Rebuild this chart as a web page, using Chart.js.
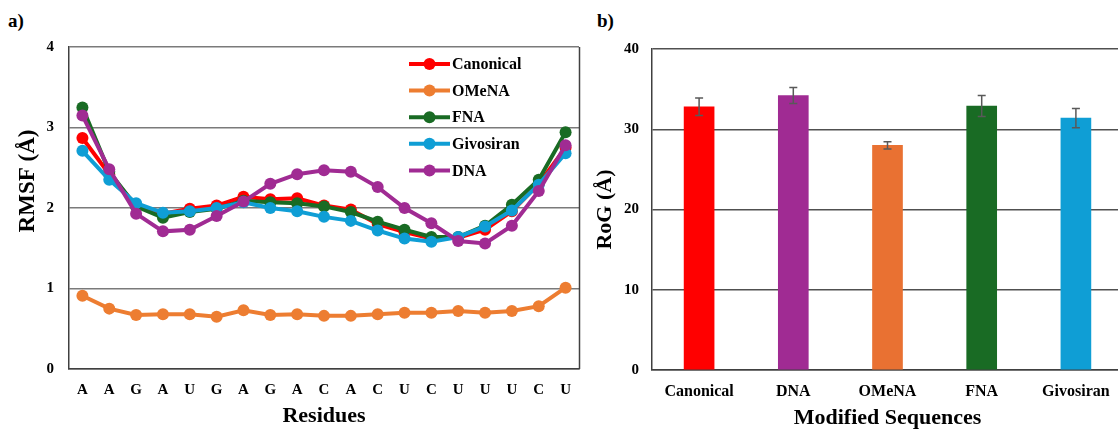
<!DOCTYPE html>
<html>
<head>
<meta charset="utf-8">
<title>RMSF and RoG</title>
<style>
  html, body { margin: 0; padding: 0; background: #fff; overflow: hidden; }
  body { width: 1118px; height: 429px; position: relative; }
  .panel { position: absolute; top: 0; }
  .tag { position: absolute; top: 10px; font: bold 19px "Liberation Serif", "Times New Roman", serif; color: #000; }
</style>
</head>
<body>
<div class="tag" style="left:8px">a)</div>
<div class="tag" style="left:597px">b)</div>
<div class="panel" style="left:0"><canvas id="rmsfChart" width="590" height="429"></canvas></div>
<div class="panel" style="left:590px"><canvas id="rogChart" width="540" height="429"></canvas></div>

<script src="https://cdn.jsdelivr.net/npm/chart.js"></script>
<script>
  const SERIF = '"Liberation Serif", "Times New Roman", serif';

  // per-residue RMSF (Å)
  const residues = ['A', 'A', 'G', 'A', 'U', 'G', 'A', 'G', 'A', 'C', 'A', 'C', 'U', 'C', 'U', 'U', 'U', 'C', 'U'];
  const canonical = [2.87, 2.42, 2.03, 1.93, 1.99, 2.03, 2.14, 2.11, 2.12, 2.03, 1.98, 1.80, 1.70, 1.62, 1.63, 1.73, 1.96, 2.30, 2.75];
  const omena     = [0.91, 0.75, 0.67, 0.68, 0.68, 0.65, 0.73, 0.67, 0.68, 0.66, 0.66, 0.68, 0.70, 0.70, 0.72, 0.70, 0.72, 0.78, 1.01];
  const fna       = [3.25, 2.45, 2.02, 1.88, 1.95, 1.99, 2.09, 2.07, 2.06, 2.02, 1.95, 1.83, 1.73, 1.64, 1.64, 1.78, 2.04, 2.35, 2.94];
  const givosiran = [2.71, 2.35, 2.06, 1.94, 1.96, 2.00, 2.07, 2.00, 1.96, 1.89, 1.84, 1.72, 1.62, 1.58, 1.64, 1.77, 1.97, 2.29, 2.68];
  const dna       = [3.15, 2.48, 1.93, 1.71, 1.73, 1.90, 2.08, 2.30, 2.42, 2.47, 2.45, 2.26, 2.00, 1.81, 1.59, 1.56, 1.78, 2.21, 2.78];

  // radius of gyration per sequence (Å)
  const sequences = ['Canonical', 'DNA', 'OMeNA', 'FNA', 'Givosiran'];
  const rog       = [32.8, 34.2, 28.0, 32.9, 31.4];
  const rogErr    = [1.1, 1.0, 0.45, 1.3, 1.2];

  const rmsfTicks = [0, 1, 2, 3, 4];
  const rogTicks = [0, 10, 20, 30, 40];

  const lineColors = { Canonical: '#FF0000', OMeNA: '#ED7D31', FNA: '#196B24', Givosiran: '#0F9ED5', DNA: '#A02B93' };
  const barColors = ['#FF0000', '#A02B93', '#E97132', '#196B24', '#0F9ED5'];

  const rmsfSeries = [
    ['Canonical', canonical],
    ['OMeNA', omena],
    ['FNA', fna],
    ['Givosiran', givosiran],
    ['DNA', dna]
  ];

  // legend drawn inside the plot area: short line with a dot, then the name
  const insideLegend = {
    id: 'insideLegend',
    afterDraw(chart, args, opts) {
      const { ctx, chartArea } = chart;
      ctx.save();
      chart.data.datasets.forEach((ds, i) => {
        const x0 = chartArea.left + opts.left;
        const y = chartArea.top + opts.top + i * opts.rowHeight;
        ctx.strokeStyle = ds.borderColor;
        ctx.lineWidth = ds.borderWidth;
        ctx.beginPath();
        ctx.moveTo(x0, y);
        ctx.lineTo(x0 + opts.lineLength, y);
        ctx.stroke();
        ctx.fillStyle = ds.borderColor;
        ctx.beginPath();
        ctx.arc(x0 + opts.lineLength / 2, y, ds.pointRadius, 0, Math.PI * 2);
        ctx.fill();
        ctx.fillStyle = '#000';
        ctx.font = opts.font;
        ctx.textBaseline = 'middle';
        ctx.fillText(ds.label, x0 + opts.lineLength + opts.gap, y + 1);
      });
      ctx.restore();
    }
  };

  // closes the plot box on the right side
  const rightFrame = {
    id: 'rightFrame',
    beforeDatasetsDraw(chart, args, opts) {
      const { ctx, chartArea } = chart;
      ctx.save();
      ctx.strokeStyle = opts.color;
      ctx.lineWidth = opts.width;
      ctx.beginPath();
      ctx.moveTo(Math.round(chartArea.right) + 0.5, chartArea.top);
      ctx.lineTo(Math.round(chartArea.right) + 0.5, chartArea.bottom);
      ctx.stroke();
      ctx.restore();
    }
  };

  // rotated y title, nudged along the axis
  const sideTitle = {
    id: 'sideTitle',
    afterDraw(chart, args, opts) {
      const { ctx, chartArea } = chart;
      ctx.save();
      ctx.translate(opts.x, (chartArea.top + chartArea.bottom) / 2 + opts.shift);
      ctx.rotate(-Math.PI / 2);
      ctx.font = opts.font;
      ctx.fillStyle = '#000';
      ctx.textAlign = 'center';
      ctx.textBaseline = 'middle';
      ctx.fillText(opts.text, 0, 0);
      ctx.restore();
    }
  };

  // whiskers on top of the bars
  const errorBars = {
    id: 'errorBars',
    afterDatasetsDraw(chart, args, opts) {
      const { ctx } = chart;
      const yScale = chart.scales.y;
      const meta = chart.getDatasetMeta(0);
      const values = chart.data.datasets[0].data;
      ctx.save();
      ctx.strokeStyle = opts.color;
      ctx.lineWidth = opts.width;
      meta.data.forEach((bar, i) => {
        const hi = yScale.getPixelForValue(values[i] + opts.errors[i]);
        const lo = yScale.getPixelForValue(values[i] - opts.errors[i]);
        ctx.beginPath();
        ctx.moveTo(bar.x, hi); ctx.lineTo(bar.x, lo);
        ctx.moveTo(bar.x - opts.cap, hi); ctx.lineTo(bar.x + opts.cap, hi);
        ctx.moveTo(bar.x - opts.cap, lo); ctx.lineTo(bar.x + opts.cap, lo);
        ctx.stroke();
      });
      ctx.restore();
    }
  };

  const tickFont = { family: SERIF, size: 15, weight: 'bold' };
  const titleFont = { family: SERIF, size: 22, weight: 'bold', lineHeight: 1 };

  new Chart(document.getElementById('rmsfChart'), {
    type: 'line',
    data: {
      labels: residues,
      datasets: rmsfSeries.map(([name, values], i) => ({
        label: name,
        data: values,
        borderColor: lineColors[name],
        backgroundColor: lineColors[name],
        pointBackgroundColor: lineColors[name],
        pointBorderWidth: 0,
        pointRadius: 6,
        borderWidth: 4,
        tension: 0,
        order: rmsfSeries.length - i
      }))
    },
    options: {
      responsive: false,
      animation: false,
      layout: { padding: { top: 47, right: 11, left: 0, bottom: 0 } },
      plugins: {
        legend: { display: false },
        tooltip: { enabled: false },
        insideLegend: { left: 340, top: 17, rowHeight: 26.6, lineLength: 41, gap: 2, font: 'bold 16px ' + SERIF },
        rightFrame: { color: '#404040', width: 1.5 },
        sideTitle: { text: 'RMSF (Å)', x: 28, shift: -27, font: 'bold 23px ' + SERIF }
      },
      scales: {
        x: {
          offset: true,
          grid: { drawOnChartArea: false, drawTicks: false },
          border: { color: '#404040', width: 1.5 },
          ticks: { font: tickFont, color: '#000', padding: 12, maxRotation: 0, autoSkip: false },
          title: { display: true, text: 'Residues', font: titleFont, color: '#000', padding: { top: 0, bottom: 2 } },
          afterFit: s => { s.height = 60; }
        },
        y: {
          min: 0,
          max: 4,
          afterBuildTicks: s => { s.ticks = rmsfTicks.map(v => ({ value: v })); },
          grid: { color: '#7a7a7a', lineWidth: 1.5, drawTicks: false },
          border: { color: '#404040', width: 1.5 },
          ticks: { font: tickFont, color: '#000', padding: 15 },
          afterFit: s => { s.width = 69; }
        }
      }
    },
    plugins: [rightFrame, insideLegend, sideTitle]
  });

  new Chart(document.getElementById('rogChart'), {
    type: 'bar',
    data: {
      labels: sequences,
      datasets: [{
        label: 'RoG',
        data: rog,
        backgroundColor: barColors,
        borderWidth: 0,
        barThickness: 30
      }]
    },
    options: {
      responsive: false,
      animation: false,
      layout: { padding: { top: 49, right: 7, left: 0, bottom: 0 } },
      plugins: {
        legend: { display: false },
        tooltip: { enabled: false },
        errorBars: { errors: rogErr, color: '#595959', width: 1.5, cap: 4 }
      },
      scales: {
        x: {
          grid: { drawOnChartArea: false, drawTicks: false },
          border: { color: '#404040', width: 1.5 },
          ticks: { font: { family: SERIF, size: 16, weight: 'bold' }, color: '#000', padding: 12, maxRotation: 0, autoSkip: false },
          title: { display: true, text: 'Modified Sequences', font: titleFont, color: '#000', padding: { top: 0, bottom: 0 } },
          afterFit: s => { s.height = 59; }
        },
        y: {
          min: 0,
          max: 40,
          afterBuildTicks: s => { s.ticks = rogTicks.map(v => ({ value: v })); },
          grid: { color: '#505050', lineWidth: 1.5, drawTicks: false },
          border: { color: '#404040', width: 1.5 },
          ticks: { font: tickFont, color: '#000', padding: 13 },
          title: { display: true, text: 'RoG (Å)', font: { family: SERIF, size: 22, weight: 'bold' }, color: '#000', padding: { top: 2, bottom: 0 } },
          afterFit: s => { s.width = 62; }
        }
      }
    },
    plugins: [errorBars]
  });
</script>
</body>
</html>
